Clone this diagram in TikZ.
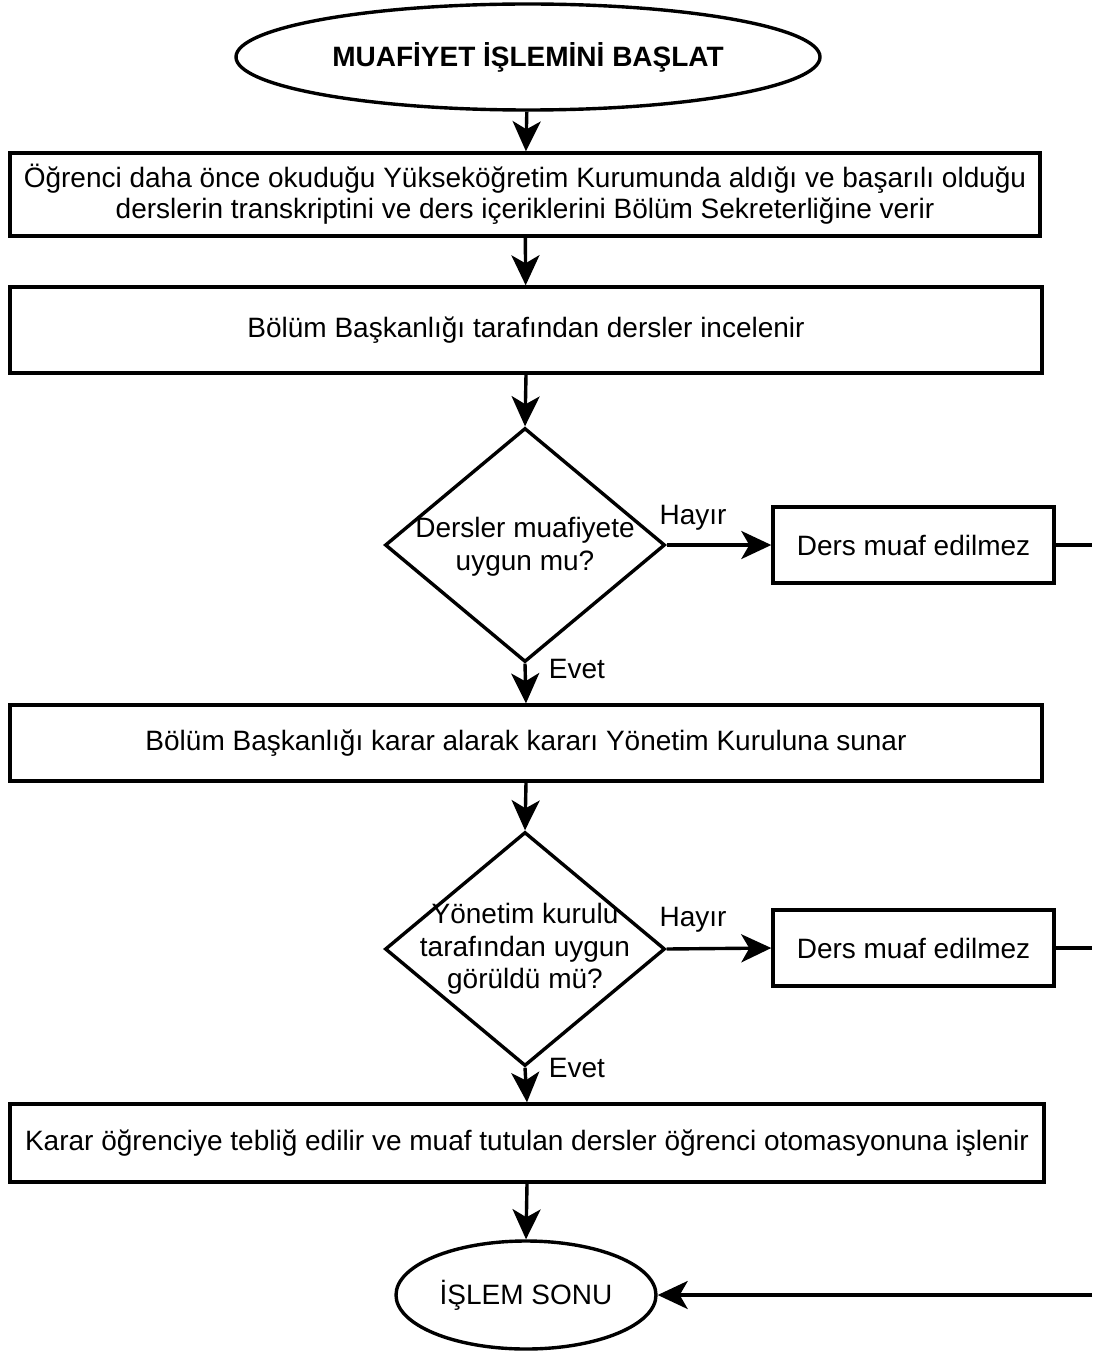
\documentclass[tikz,border=0pt]{standalone}
\usepackage{fontspec}
\setmainfont{Liberation Sans}
\usetikzlibrary{arrows.meta,shapes.geometric}

\begin{document}
\begin{tikzpicture}[x=1pt,y=-1pt,line width=3.4pt,
  every node/.style={font=\fontsize{28}{31}\selectfont},
  term/.style={draw,ellipse,inner sep=0pt},
  proc/.style={draw,rectangle,inner sep=0pt,align=center},
  decision/.style={draw,diamond,inner sep=0pt,minimum width=280pt,minimum height=234pt},
  qtext/.style={align=center,font=\fontsize{28}{32.5}\selectfont},
  arr/.style={-{Stealth[length=30pt,width=28pt,inset=8pt]}}]
  \useasboundingbox (0,0) rectangle (1092,1351);

  % start / end
  \node[term,minimum width=584pt,minimum height=106pt] (start) at (528,57)
    {\bfseries MUAFİYET İŞLEMİNİ BAŞLAT};
  \node[term,minimum width=260pt,minimum height=108pt] (stop) at (526,1295) {İŞLEM SONU};

  % steps
  \node[proc,minimum width=1030pt,minimum height=83pt] (give) at (525,194.5)
    {Öğrenci daha önce okuduğu Yükseköğretim Kurumunda aldığı ve başarılı olduğu\\
     derslerin transkriptini ve ders içeriklerini Bölüm Sekreterliğine verir};
  \node[proc,minimum width=1032pt,minimum height=86pt] (check) at (526,330)
    {Bölüm Başkanlığı tarafından dersler incelenir};
  \node[decision] (fit) at (525,545) {};
  \node[qtext] (fitq) at (525,547) {Dersler muafiyete\\uygun mu?};
  \node[proc,minimum width=281pt,minimum height=76pt] (no1) at (913.5,545) {Ders muaf edilmez};
  \node[proc,minimum width=1032pt,minimum height=76pt] (board) at (526,743)
    {Bölüm Başkanlığı karar alarak kararı Yönetim Kuruluna sunar};
  \node[decision] (ok) at (525,949) {};
  \node[qtext] (okq) at (525,949) {Yönetim kurulu\\tarafından uygun\\görüldü mü?};
  \node[proc,minimum width=281pt,minimum height=76pt] (no2) at (913.5,948) {Ders muaf edilmez};
  \node[proc,minimum width=1034pt,minimum height=78pt] (note) at (527,1143)
    {Karar öğrenciye tebliğ edilir ve muaf tutulan dersler öğrenci otomasyonuna işlenir};

  % branch labels
  \node (h1) at (693,518) {Hayır};
  \node (e1) at (577,669) {Evet};
  \node (h2) at (693,920) {Hayır};
  \node (e2) at (577,1068) {Evet};

  % return line runs off the right edge
  \coordinate (r1) at (1092,545);
  \coordinate (r2) at (1092,948);
  \coordinate (r3) at (1092,1295);

  \draw[arr] (start) -- (give);
  \draw[arr] (give) -- (check);
  \draw[arr] (check.south) -- (fit.north);
  \draw[arr] (fit.east) -- (no1.west);
  \draw[arr] (fit.south) -- (board.north);
  \draw[arr] (board.south) -- (ok.north);
  \draw[arr] (ok.east) -- (no2.west);
  \draw[arr] (ok.south) -- (note.north);
  \draw[arr] (note.south) -- (stop.north);
  \draw (no1.east) -- (r1);
  \draw (no2.east) -- (r2);
  \draw[arr] (r3) -- (stop.east);
\end{tikzpicture}
\end{document}
